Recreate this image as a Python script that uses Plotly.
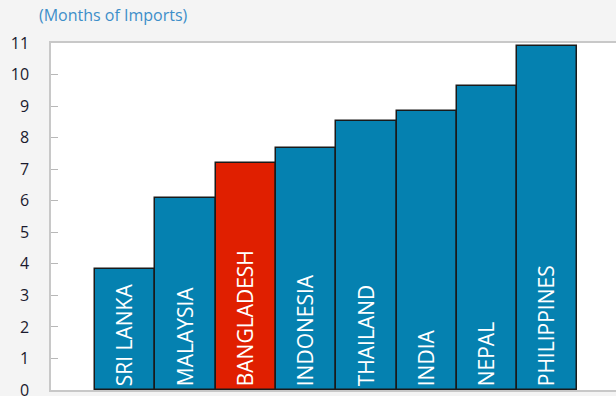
import plotly.graph_objects as go

countries = ["SRI LANKA", "MALAYSIA", "BANGLADESH", "INDONESIA", "THAILAND", "INDIA", "NEPAL", "PHILIPPINES"]
months = [3.83, 6.08, 7.2, 7.68, 8.53, 8.86, 9.65, 10.9]
highlight = "BANGLADESH"
y_ticks = list(range(0, 12))

blue = "#0581b0"
red = "#e01f00"
colors = [red if c == highlight else blue for c in countries]

fig = go.Figure(go.Bar(
    x=countries, y=months,
    marker=dict(color=colors, line=dict(color="#1a1a1a", width=1.5)),
    text=countries, textposition="inside", insidetextanchor="start",
    textangle=-90, textfont=dict(color="white", size=21, family="Open Sans"),
    constraintext="none", cliponaxis=False,
))

fig.update_layout(
    width=616, height=396,
    margin=dict(l=51, r=0, t=43, b=6, autoexpand=False),
    paper_bgcolor="#f4f4f4", plot_bgcolor="white",
    bargap=0, showlegend=False,
    font=dict(family="Open Sans", color="#1a1a2e"),
    annotations=[dict(text="(Months of Imports)", xref="paper", yref="paper",
                      x=-0.025, y=1.081, xanchor="left", yanchor="middle", showarrow=False,
                      font=dict(size=16, color="#3d8ec9", family="Open Sans"))],
)
fig.update_xaxes(range=[-1.23, 8.14], showticklabels=False, ticks="",
                 showline=True, linecolor="#c8c8c8", linewidth=1.5, mirror=True,
                 showgrid=False, zeroline=False, automargin=False)
fig.update_yaxes(range=[0, 11], tickvals=y_ticks, ticks="inside", ticklen=7,
                 tickcolor="#b8b8b8", showline=True, linecolor="#c8c8c8", linewidth=1.5,
                 showgrid=False, zeroline=False, ticklabelstandoff=17,
                 ticklabeloverflow="allow", automargin=False,
                 tickfont=dict(size=16, color="#1a1a2e"))
fig.write_html("out.html", config={"displayModeBar": False},
               post_script="document.body.style.margin='0';")
